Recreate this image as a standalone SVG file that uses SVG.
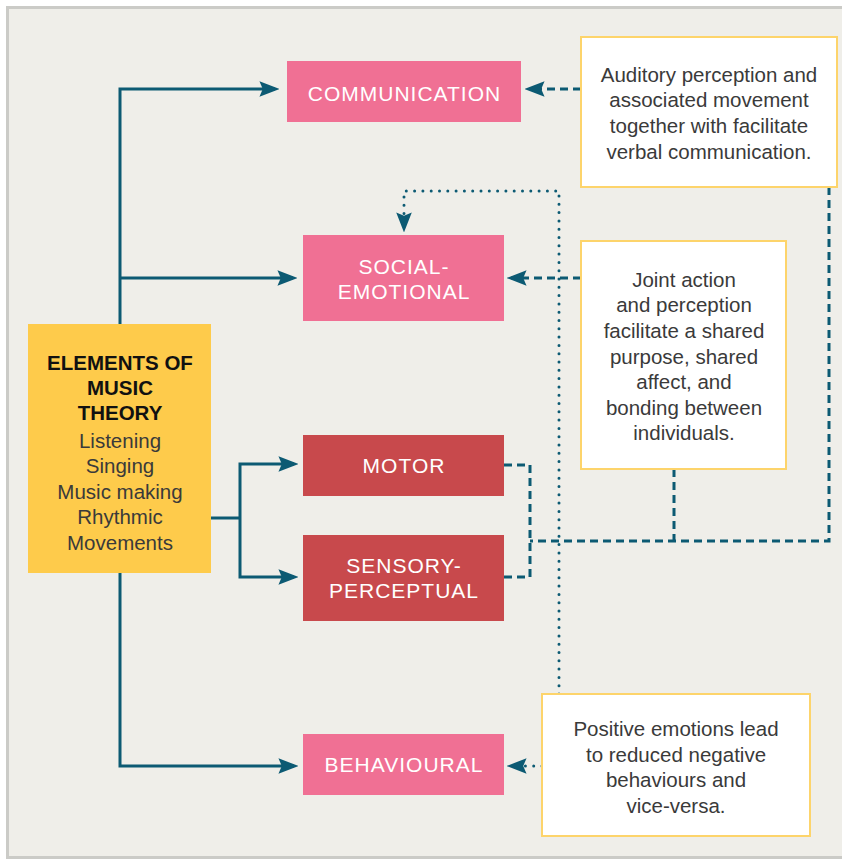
<svg xmlns="http://www.w3.org/2000/svg" width="842" height="860" viewBox="0 0 842 860">
  <defs>
    <marker id="arr" markerUnits="userSpaceOnUse" markerWidth="20" markerHeight="16" viewBox="0 0 18 14" refX="14" refY="7" orient="auto">
      <path d="M0,0 L18,7 L0,14 L3,7 z" fill="#0c5a73"/>
    </marker>
    <style>
      .panel{fill:#efeee9;stroke:#cbcbc7;stroke-width:3}
      .pink{fill:#f07094}
      .red{fill:#c8494c}
      .yel{fill:#fecb4b}
      .call{fill:#ffffff;stroke:#fdd46b;stroke-width:2}
      .lbl{font-family:"Liberation Sans",Arial,sans-serif;font-size:21px;fill:#ffffff;letter-spacing:1px;text-anchor:middle}
      .body{font-family:"Liberation Sans",Arial,sans-serif;font-size:20.5px;fill:#3a3a3a;text-anchor:middle}
      .head{font-family:"Liberation Sans",Arial,sans-serif;font-size:20.5px;font-weight:bold;fill:#111111;text-anchor:middle}
      .solid{fill:none;stroke:#0c5a73;stroke-width:3}
      .dash{fill:none;stroke:#0c5a73;stroke-width:3;stroke-dasharray:8 5}
      .dot{fill:none;stroke:#0c5a73;stroke-width:3;stroke-linecap:round;stroke-dasharray:0 8.3}
    </style>
  </defs>

  <rect class="panel" x="7.5" y="7.5" width="842" height="850"/>

  <g id="connectors">
    <path class="solid" d="M120,324 V89 H275" marker-end="url(#arr)"/>
    <path class="solid" d="M120,278 H293" marker-end="url(#arr)"/>
    <path class="solid" d="M120,573 V766 H294" marker-end="url(#arr)"/>
    <path class="solid" d="M211,518 H240"/>
    <path class="solid" d="M240,518 V464 H294" marker-end="url(#arr)"/>
    <path class="solid" d="M240,518 V577 H294" marker-end="url(#arr)"/>
    <path class="dash" d="M581,89 H529" marker-end="url(#arr)"/>
    <path class="dash" d="M581,278 H511" marker-end="url(#arr)"/>
    <path class="dash" d="M829,187 V541 H530"/>
    <path class="dash" d="M674,469 V541"/>
    <path class="dash" d="M504,465 H530 V577 H504"/>
    <path class="dot" d="M559,694 V191 H404 V228" marker-end="url(#arr)"/>
    <path class="dot" d="M542,766 H511" marker-end="url(#arr)"/>
  </g>

  <g id="elements">
    <rect class="yel" x="28" y="324" width="183" height="249"/>
    <text class="head" x="120" y="370">ELEMENTS OF</text>
    <text class="head" x="120" y="395">MUSIC</text>
    <text class="head" x="120" y="420">THEORY</text>
    <text class="body" x="120" y="447.5">Listening</text>
    <text class="body" x="120" y="473">Singing</text>
    <text class="body" x="120" y="498.5">Music making</text>
    <text class="body" x="120" y="524">Rhythmic</text>
    <text class="body" x="120" y="549.5">Movements</text>
  </g>

  <g id="communication">
    <rect class="pink" x="287" y="61" width="234" height="61"/>
    <text class="lbl" x="404.5" y="100.5">COMMUNICATION</text>
  </g>

  <g id="social-emotional">
    <rect class="pink" x="303" y="235" width="201" height="86"/>
    <text class="lbl" x="404" y="274">SOCIAL-</text>
    <text class="lbl" x="404" y="299">EMOTIONAL</text>
  </g>

  <g id="motor">
    <rect class="red" x="303" y="435" width="201" height="61"/>
    <text class="lbl" x="404" y="473.3">MOTOR</text>
  </g>

  <g id="sensory-perceptual">
    <rect class="red" x="303" y="535" width="201" height="86"/>
    <text class="lbl" x="404" y="573.3">SENSORY-</text>
    <text class="lbl" x="404" y="597.7">PERCEPTUAL</text>
  </g>

  <g id="behavioural">
    <rect class="pink" x="303" y="734" width="201" height="61"/>
    <text class="lbl" x="404" y="771.7">BEHAVIOURAL</text>
  </g>

  <g id="note-communication">
    <rect class="call" x="581" y="37" width="256" height="150"/>
    <text class="body" x="709" y="81.7">Auditory perception and</text>
    <text class="body" x="709" y="107.3">associated movement</text>
    <text class="body" x="709" y="132.9">together with facilitate</text>
    <text class="body" x="709" y="158.5">verbal communication.</text>
  </g>

  <g id="note-social">
    <rect class="call" x="581" y="241" width="205" height="228"/>
    <text class="body" x="684" y="286.7">Joint action</text>
    <text class="body" x="684" y="312.3">and perception</text>
    <text class="body" x="684" y="337.9">facilitate a shared</text>
    <text class="body" x="684" y="363.5">purpose, shared</text>
    <text class="body" x="684" y="389.1">affect, and</text>
    <text class="body" x="684" y="414.7">bonding between</text>
    <text class="body" x="684" y="440.3">individuals.</text>
  </g>

  <g id="note-behaviour">
    <rect class="call" x="542" y="694" width="268" height="142"/>
    <text class="body" x="676" y="736">Positive emotions lead</text>
    <text class="body" x="676" y="761.6">to reduced negative</text>
    <text class="body" x="676" y="787.2">behaviours and</text>
    <text class="body" x="676" y="812.8">vice-versa.</text>
  </g>
</svg>
